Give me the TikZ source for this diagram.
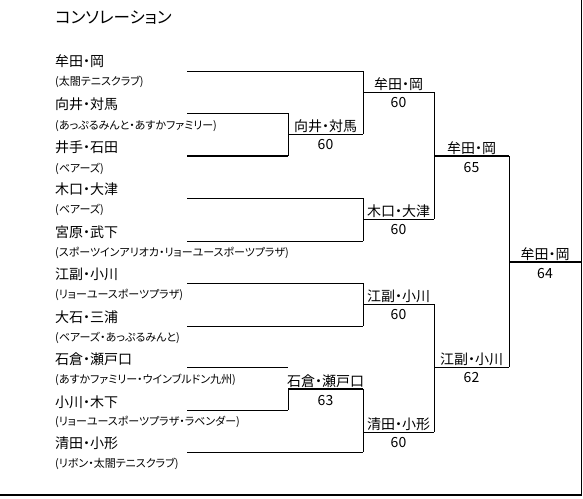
\documentclass[tikz,border=0pt]{standalone}
\usepackage{fontspec}
\setmainfont{Noto Sans CJK JP}
\newfontfamily\jp{Noto Sans CJK JP}
\newfontfamily\jpp[RawFeature={+palt}]{Noto Sans CJK JP}
\begin{document}
\begin{tikzpicture}[x=1pt,y=-1pt,
  pname/.style={anchor=west, inner sep=0pt, font=\jpp\fontsize{14}{14}\selectfont},
  paff/.style={anchor=west, inner sep=0pt, font=\jpp\fontsize{11}{11}\selectfont},
  ttl/.style={anchor=west, inner sep=0pt, font=\jpp\fontsize{16.5}{16.5}\selectfont},
  wlab/.style={anchor=south, inner sep=0.5pt, font=\jpp\fontsize{14}{14}\selectfont},
  wsc/.style={anchor=north, inner sep=0pt, yshift=-5pt, font=\jpp\fontsize{14}{14}\selectfont},
  ln/.style={line width=1pt},
  thk/.style={line width=2pt}]
\useasboundingbox (0,0) rectangle (583,498);
% border
\coordinate (bl) at (0,495);
\coordinate (br) at (581.5,495);
\coordinate (tr) at (581.5,0);
\draw[line width=1.6pt] (bl) -- (br) -- (tr);
% title
\node[ttl] (title) at (55,18) {コンソレーション};
% players
\node[pname] (n1) at (55,61) {牟田・岡};
\node[paff] (a1) at (55,82) {(太閤テニスクラブ)};
\node[pname] (n2) at (55,104) {向井・対馬};
\node[paff] (a2) at (55,126) {(あっぷるみんと・あすかファミリー)};
\node[pname] (n3) at (55,147) {井手・石田};
\node[paff] (a3) at (55,169) {(ベアーズ)};
\node[pname] (n4) at (55,189) {木口・大津};
\node[paff] (a4) at (55,210) {(ベアーズ)};
\node[pname] (n5) at (55,232) {宮原・武下};
\node[paff] (a5) at (55,253) {(スポーツインアリオカ・リョーユースポーツプラザ)};
\node[pname] (n6) at (55,274) {江副・小川};
\node[paff] (a6) at (55,295) {(リョーユースポーツプラザ)};
\node[pname] (n7) at (55,317) {大石・三浦};
\node[paff] (a7) at (55,338) {(ベアーズ・あっぷるみんと)};
\node[pname] (n8) at (55,359) {石倉・瀬戸口};
\node[paff] (a8) at (55,380) {(あすかファミリー・ウインブルドン九州)};
\node[pname] (n9) at (55,402) {小川・木下};
\node[paff] (a9) at (55,422) {(リョーユースポーツプラザ・ラベンダー)};
\node[pname] (n10) at (55,443) {清田・小形};
\node[paff] (a10) at (55,464) {(リボン・太閤テニスクラブ)};
% player line ends
\coordinate (p1a) at (187,71);  \coordinate (p1b) at (363,71);
\coordinate (p2a) at (187,113); \coordinate (p2b) at (288,113);
\coordinate (p3a) at (187,156); \coordinate (p3b) at (288,156);
\coordinate (p4a) at (187,198); \coordinate (p4b) at (363,198);
\coordinate (p5a) at (187,241); \coordinate (p5b) at (363,241);
\coordinate (p6a) at (187,283); \coordinate (p6b) at (363,283);
\coordinate (p7a) at (187,326); \coordinate (p7b) at (363,326);
\coordinate (p8a) at (187,367); \coordinate (p8b) at (288,367);
\coordinate (p9a) at (187,410); \coordinate (p9b) at (288,410);
\coordinate (p10a) at (187,452); \coordinate (p10b) at (363,452);
% winner line ends
\coordinate (w1a) at (288,134); \coordinate (w1b) at (363,134);
\coordinate (w2a) at (288,389); \coordinate (w2b) at (363,389);
\coordinate (w3a) at (363,92);  \coordinate (w3b) at (434,92);
\coordinate (w4a) at (363,219); \coordinate (w4b) at (434,219);
\coordinate (w5a) at (363,304); \coordinate (w5b) at (434,304);
\coordinate (w6a) at (363,432); \coordinate (w6b) at (434,432);
\coordinate (w7a) at (434,156); \coordinate (w7b) at (509,156);
\coordinate (w8a) at (434,367); \coordinate (w8b) at (509,367);
\coordinate (w9a) at (509,262); \coordinate (w9b) at (581,262);
% player lines
\draw[ln] (p1a) -- (p1b);
\draw[ln] (p2a) -- (p2b);
\draw[thk] (p3a) -- (p3b);
\draw[ln] (p4a) -- (p4b);
\draw[ln] (p5a) -- (p5b);
\draw[ln] (p6a) -- (p6b);
\draw[ln] (p7a) -- (p7b);
\draw[ln] (p8a) -- (p8b);
\draw[ln] (p9a) -- (p9b);
\draw[ln] (p10a) -- (p10b);
% verticals
\draw[ln] (p2b) -- (p3b);
\draw[ln] (w2a) -- (p9b);
\draw[ln] (p1b) -- (w1b);
\draw[ln] (p4b) -- (p5b);
\draw[ln] (p6b) -- (p7b);
\draw[ln] (w2b) -- (p10b);
\draw[ln] (w3b) -- (w4b);
\draw[ln] (w5b) -- (w6b);
\draw[ln] (w7b) -- (w8b);
% winner lines with labels
\draw[ln] (w1a) -- node[wlab] (l1) {向井・対馬} node[wsc] (s1) {60} (w1b);
\draw[thk] (w2a) -- node[wlab] (l2) {石倉・瀬戸口} node[wsc] (s2) {63} (w2b);
\draw[ln] (w3a) -- node[wlab] (l3) {牟田・岡} node[wsc] (s3) {60} (w3b);
\draw[ln] (w4a) -- node[wlab] (l4) {木口・大津} node[wsc] (s4) {60} (w4b);
\draw[ln] (w5a) -- node[wlab] (l5) {江副・小川} node[wsc] (s5) {60} (w5b);
\draw[ln] (w6a) -- node[wlab] (l6) {清田・小形} node[wsc] (s6) {60} (w6b);
\draw[thk] (w7a) -- node[wlab] (l7) {牟田・岡} node[wsc] (s7) {65} (w7b);
\draw[ln] (w8a) -- node[wlab] (l8) {江副・小川} node[wsc] (s8) {62} (w8b);
\draw[thk] (w9a) -- node[wlab] (l9) {牟田・岡} node[wsc] (s9) {64} (w9b);
\end{tikzpicture}
\end{document}
